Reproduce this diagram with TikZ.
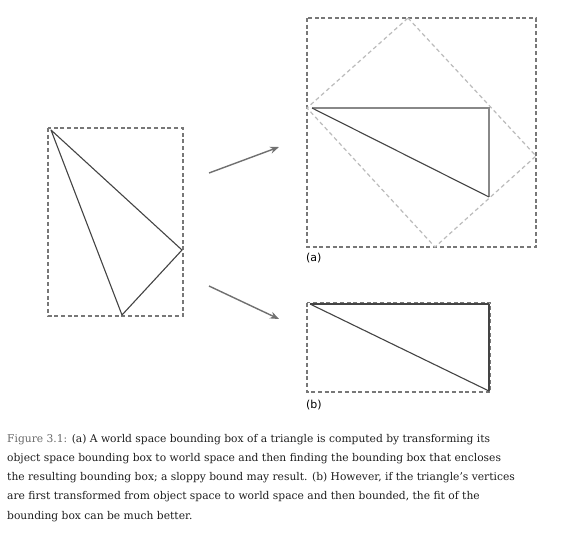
\documentclass[tikz,border=0pt]{standalone}
\usepackage{fontspec}
\setmainfont{DejaVu Serif}
\newfontfamily\labelfont{DejaVu Sans}
\usetikzlibrary{arrows.meta}
\definecolor{boxgray}{HTML}{777777}
\definecolor{trigray}{HTML}{444444}
\definecolor{edgegray}{HTML}{888888}
\definecolor{lightgray2}{HTML}{BBBBBB}
\definecolor{arrowgray}{HTML}{707070}
\definecolor{capgray}{HTML}{6A6A6A}
\definecolor{captext}{HTML}{1E1E1E}
\tikzset{
  bbox/.style={draw=boxgray, line width=1.3pt, dash pattern=on 4pt off 2.7pt},
  rotbox/.style={draw=lightgray2, line width=1.2pt, dash pattern=on 4pt off 3pt},
  tri/.style={draw=trigray, line width=1.1pt, line join=round},
  tri2/.style={draw=edgegray, line width=1.6pt},
  mapsto/.style={draw=arrowgray, line width=1.4pt, -{Stealth[length=9pt,width=7pt]}},
  sublabel/.style={font=\labelfont\fontsize{11}{13}\selectfont, anchor=west, inner sep=0pt},
  caption/.style={font=\fontsize{10.7}{19.2}\selectfont, align=left, anchor=north west, inner sep=0pt, text=captext}
}
\begin{document}
\begin{tikzpicture}[x=1pt,y=-1pt]
\useasboundingbox[fill=white] (0,0) rectangle (580,544);
% left: object space
\coordinate (L1) at (48,128);
\coordinate (L2) at (183,316);
\draw[bbox] (L1) rectangle (L2);
\coordinate (T1) at (51,130);
\coordinate (T2) at (182,250);
\coordinate (T3) at (122,315);
\draw[tri] (T1) -- (T2) -- (T3) -- cycle;
% (a)
\coordinate (A1) at (307,18);
\coordinate (A2) at (536,247);
\draw[bbox] (A1) rectangle (A2);
\coordinate (R1) at (408,18);
\coordinate (R2) at (536,156);
\coordinate (R3) at (435,247);
\coordinate (R4) at (307,108);
\draw[rotbox] (R1) -- (R2) -- (R3) -- (R4) -- cycle;
\coordinate (P1) at (312,108);
\coordinate (P2) at (489,108);
\coordinate (P3) at (489,197);
\draw[tri2] (P1) -- (P2) -- (P3);
\draw[tri] (P1) -- (P3);
\node[sublabel] (la) at (306,258) {(a)};
% (b)
\coordinate (B1) at (307,302.5);
\coordinate (B2) at (490.5,392);
\draw[bbox] (B1) rectangle (B2);
\coordinate (Q1) at (310,304);
\coordinate (Q2) at (489,304);
\coordinate (Q3) at (489,391);
\draw[tri] (Q1) -- (Q2) -- (Q3);
\draw[tri] (Q1) -- (Q3);
\node[sublabel] (lb) at (306,405) {(b)};
% arrows
\coordinate (S1) at (209,173);
\coordinate (E1) at (279,147);
\coordinate (S2) at (209,286);
\coordinate (E2) at (279,319);
\draw[mapsto] (S1) -- (E1);
\draw[mapsto] (S2) -- (E2);
% caption
\node[caption] (cap) at (7,434) {{\color{capgray}Figure 3.1:} (a) A world space bounding box of a triangle is computed by transforming its\\
object space bounding box to world space and then finding the bounding box that encloses\\
the resulting bounding box; a sloppy bound may result. (b) However, if the triangle’s vertices\\
are first transformed from object space to world space and then bounded, the fit of the\\
bounding box can be much better.};
\end{tikzpicture}
\end{document}
